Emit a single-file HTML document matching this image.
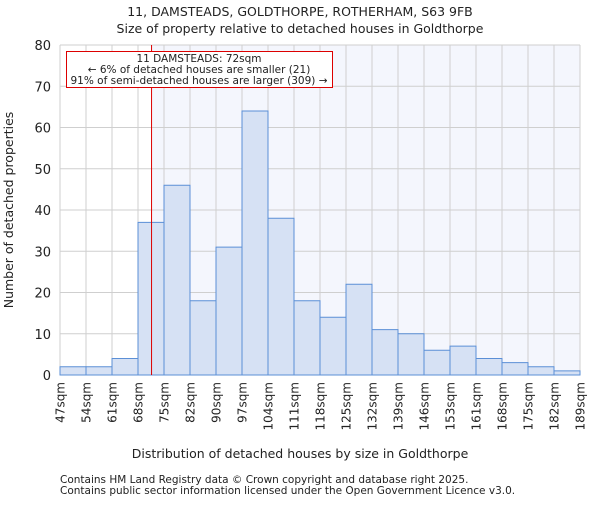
<!DOCTYPE html>
<html><head><meta charset="utf-8"><style>body{margin:0;background:#fff}svg text{font-family:"DejaVu Sans","Liberation Sans",sans-serif;fill:#222}</style></head>
<body>
<svg id="c" width="600" height="500" xmlns="http://www.w3.org/2000/svg">
<text x="300" y="16" text-anchor="middle" font-size="12.5">11, DAMSTEADS, GOLDTHORPE, ROTHERHAM, S63 9FB</text>
<text x="300" y="33" text-anchor="middle" font-size="12.5">Size of property relative to detached houses in Goldthorpe</text>
<g id="plot"></g>
<text x="300" y="458" text-anchor="middle" font-size="12.5">Distribution of detached houses by size in Goldthorpe</text>
<text transform="translate(13,210) rotate(-90)" text-anchor="middle" font-size="12.5">Number of detached properties</text>
<text x="60" y="483" font-size="10.5" fill="#444">Contains HM Land Registry data © Crown copyright and database right 2025.</text>
<text x="60" y="494" font-size="10.5" fill="#444">Contains public sector information licensed under the Open Government Licence v3.0.</text>
</svg>
<script>
const categories=["47sqm","54sqm","61sqm","68sqm","75sqm","82sqm","90sqm","97sqm","104sqm","111sqm","118sqm","125sqm","132sqm","139sqm","146sqm","153sqm","161sqm","168sqm","175sqm","182sqm","189sqm"];
const counts=[2,2,4,37,46,18,31,64,38,18,14,22,11,10,6,7,4,3,2,1];
const yTicks=[0,10,20,30,40,50,60,70,80];
const binStart=47, binEnd=189, markerValue=72;
const L=60,R=580,T=45,B=375,ns="http://www.w3.org/2000/svg";
const g=document.getElementById('plot');
const xs=v=>L+(v-binStart)/(binEnd-binStart)*(R-L);
const xi=i=>L+i*(R-L)/counts.length;
const y=v=>B-v/80*(B-T);
function el(t,a){const e=document.createElementNS(ns,t);for(const k in a)e.setAttribute(k,a[k]);g.appendChild(e);return e;}
const mx=xs(markerValue);
let bg=el('rect',{x:mx,y:T,width:R-mx,height:B-T,fill:'#f4f6fd'});


for(let i=0;i<=counts.length;i++){let l=el('line',{x1:xi(i),x2:xi(i),y1:T,y2:B,stroke:'#cfcfcf','stroke-width':1});

}
yTicks.forEach(t=>{let l=el('line',{x1:L,x2:R,y1:y(t),y2:y(t),stroke:'#cfcfcf','stroke-width':1});


let tx=el('text',{x:L-9,y:y(t)+5,'text-anchor':'end','font-size':13});tx.textContent=t;

});
counts.forEach((c,i)=>{let r=el('rect',{x:xi(i),y:y(c),width:xi(i+1)-xi(i),height:B-y(c),fill:'#d6e1f4',stroke:'#5b8fd6','stroke-width':1});

});
categories.forEach((c,i)=>{let tx=el('text',{transform:`translate(${xi(i)+4.5},382) rotate(-90)`,'text-anchor':'end','font-size':12});tx.textContent=c;

});
let ml=el('line',{x1:mx,x2:mx,y1:T,y2:B,stroke:'#dd0000','stroke-width':1});


let box=el('rect',{x:66.5,y:51.5,width:266,height:36,fill:'#fff',stroke:'#dd0000','stroke-width':1});


["11 DAMSTEADS: 72sqm","← 6% of detached houses are smaller (21)","91% of semi-detached houses are larger (309) →"].forEach((s,i)=>{let tx=el('text',{x:199,y:62+i*11,'text-anchor':'middle','font-size':10.5});tx.textContent=s;

});
</script>
</body></html>
